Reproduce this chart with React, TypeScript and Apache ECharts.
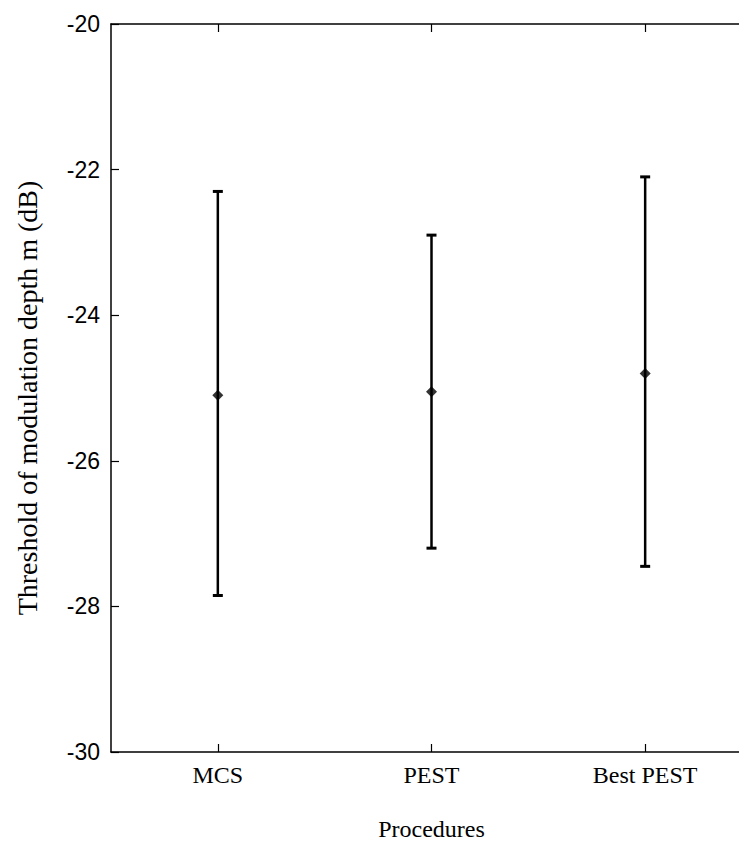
import React, { useEffect, useRef } from "react";
import * as echarts from "echarts";

// Procedures compared
const categories = ["MCS", "PEST", "Best PEST"];
// Mean threshold (dB) for each procedure
const means = [-25.1, -25.05, -24.8];
// Upper and lower ends of each error bar (dB)
const upper = [-22.3, -22.9, -22.1];
const lower = [-27.85, -27.2, -27.45];

export default function App() {
  const ref = useRef<HTMLDivElement>(null);

  useEffect(() => {
    if (!ref.current) return;
    const chart = echarts.init(ref.current, undefined, { renderer: "svg" });

    const barData = categories.map((_, i) => [i, lower[i], upper[i]]);
    const meanData = categories.map((_, i) => [i, means[i]]);

    chart.setOption({
      animation: false,
      backgroundColor: "#ffffff",
      grid: {
        left: 111,
        top: 24,
        width: 641,
        height: 728,
        containLabel: false,
        outerBoundsMode: "none",
      },
      xAxis: [
        {
          type: "category",
          data: categories,
          position: "bottom",
          axisLine: { show: true, lineStyle: { color: "#000", width: 1.5 } },
          axisTick: { show: true, inside: true, length: 8, alignWithLabel: true, lineStyle: { color: "#000", width: 1.2 } },
          axisLabel: { color: "#000", fontFamily: "Liberation Serif", fontSize: 24, margin: 11 },
          name: "Procedures",
          nameLocation: "middle",
          nameGap: 65,
          nameTextStyle: { color: "#000", fontFamily: "Liberation Serif", fontSize: 24 },
          splitLine: { show: false },
        },
        {
          type: "category",
          data: categories,
          position: "top",
          axisLine: { show: true, lineStyle: { color: "#000", width: 1.5 } },
          axisTick: { show: true, inside: true, length: 8, alignWithLabel: true, lineStyle: { color: "#000", width: 1.2 } },
          axisLabel: { show: false },
          splitLine: { show: false },
        },
      ],
      yAxis: {
        type: "value",
        min: -30,
        max: -20,
        interval: 2,
        axisLine: { show: true, lineStyle: { color: "#000", width: 1.5 } },
        axisTick: { show: true, inside: true, length: 8, lineStyle: { color: "#000", width: 1.2 } },
        axisLabel: { color: "#000", fontFamily: "Liberation Sans", fontSize: 23, margin: 11 },
        splitLine: { show: false },
        name: "Threshold of modulation depth m (dB)",
        nameLocation: "middle",
        nameGap: 70,
        nameTextStyle: {
          color: "#000",
          fontFamily: "Liberation Serif",
          fontSize: 28,
          padding: [0, 20, 0, 0],
        },
      },
      series: [
        {
          type: "custom",
          data: barData,
          renderItem: (params: any, api: any) => {
            const x = api.value(0);
            const lo = api.coord([x, api.value(1)]);
            const hi = api.coord([x, api.value(2)]);
            const cap = 5;
            const style = { stroke: "#000", lineWidth: 2.5 };
            return {
              type: "group",
              children: [
                { type: "line", shape: { x1: hi[0], y1: hi[1], x2: lo[0], y2: lo[1] }, style },
                { type: "line", shape: { x1: hi[0] - cap, y1: hi[1], x2: hi[0] + cap, y2: hi[1] }, style: { stroke: "#000", lineWidth: 3 } },
                { type: "line", shape: { x1: lo[0] - cap, y1: lo[1], x2: lo[0] + cap, y2: lo[1] }, style: { stroke: "#000", lineWidth: 3 } },
              ],
            };
          },
        },
        {
          type: "scatter",
          data: meanData,
          symbol: "diamond",
          symbolSize: 11,
          itemStyle: { color: "#000" },
        },
      ],
    });

    return () => chart.dispose();
  }, []);

  return (
    <div style={{ position: "fixed", left: 0, top: 0, width: 739, height: 843, overflow: "hidden", background: "#fff" }}>
      <div ref={ref} style={{ width: 760, height: 843 }} />
    </div>
  );
}
